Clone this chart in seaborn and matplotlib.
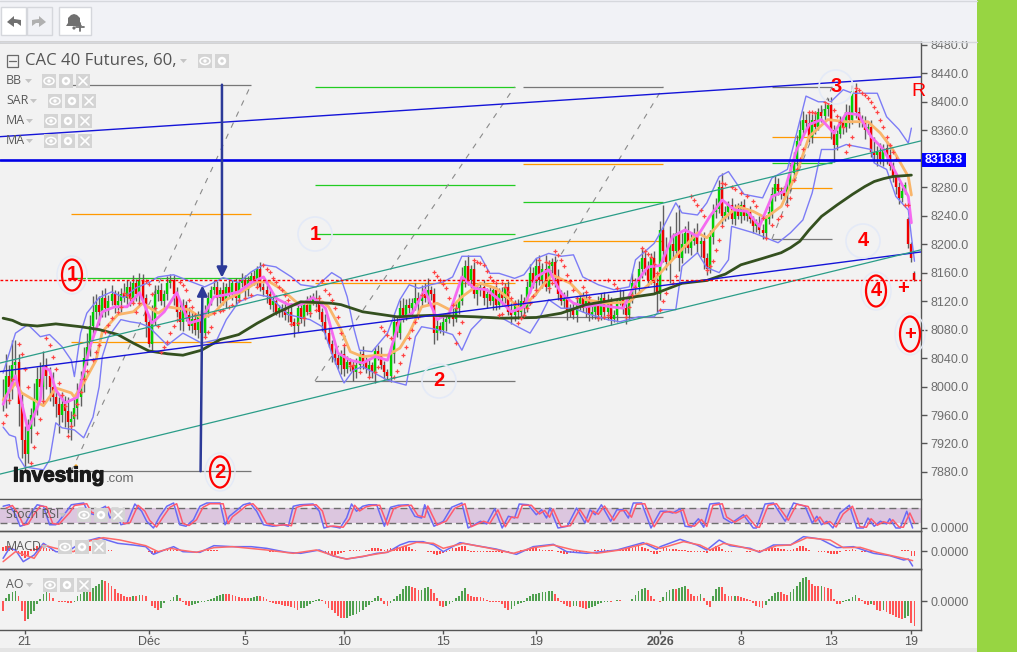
import matplotlib
matplotlib.use("Agg")
import matplotlib.pyplot as plt
from matplotlib.patches import Ellipse, Circle, Rectangle, Polygon
import matplotlib.patheffects as pe
import seaborn as sns

# Candles, one per bar
closes = [
    7985, 8015, 8000, 8030, 8035, 7975, 7925, 7905, 7940, 7960,
    7980, 8010, 8000, 8030, 8015, 8000, 7985, 7975, 7960, 7975,
    7965, 7950, 7955, 7970, 7985, 8010, 8040, 8055, 8085, 8105,
    8115, 8105, 8125, 8110, 8120, 8130, 8115, 8120, 8130, 8125,
    8140, 8125, 8145, 8130, 8150, 8125, 8090, 8060, 8095, 8130,
    8135, 8120, 8130, 8145, 8150, 8130, 8105, 8090, 8115, 8100,
    8085, 8095, 8080, 8100, 8075, 8105, 8125, 8135, 8140, 8125,
    8135, 8120, 8140, 8130, 8145, 8125, 8145, 8150, 8135, 8150,
    8155, 8150, 8165, 8140, 8135, 8130, 8115, 8120, 8105, 8110,
    8110, 8100, 8105, 8090, 8085, 8110, 8095, 8115, 8105, 8120,
    8125, 8120, 8105, 8090, 8075, 8060, 8045, 8040, 8030, 8045,
    8025, 8035, 8030, 8020, 8030, 8045, 8035, 8025, 8030, 8020,
    8050, 8045, 8030, 8020, 8015, 8045, 8090, 8075, 8110, 8100,
    8115, 8110, 8118, 8125, 8120, 8130, 8125, 8135, 8130, 8075,
    8085, 8080, 8090, 8095, 8100, 8095, 8110, 8120, 8150, 8170,
    8150, 8165, 8130, 8135, 8140, 8125, 8130, 8120, 8135, 8115,
    8130, 8125, 8140, 8105, 8100, 8115, 8105, 8120, 8110, 8140,
    8160, 8145, 8170, 8150, 8165, 8140, 8170, 8175, 8155, 8130,
    8120, 8125, 8105, 8110, 8100, 8115, 8125, 8110, 8120, 8100,
    8105, 8115, 8100, 8125, 8105, 8120, 8095, 8100, 8120, 8125,
    8110, 8100, 8125, 8145, 8140, 8165, 8180, 8165, 8150, 8180,
    8145, 8130, 8220, 8190, 8175, 8200, 8190, 8215, 8180, 8200,
    8215, 8195, 8205, 8215, 8200, 8205, 8180, 8165, 8210, 8245,
    8250, 8280, 8240, 8245, 8255, 8235, 8250, 8240, 8255, 8240,
    8245, 8235, 8225, 8230, 8220, 8215, 8235, 8245, 8270, 8285,
    8275, 8272, 8268, 8280, 8300, 8320, 8345, 8360, 8375, 8370,
    8350, 8375, 8365, 8385, 8380, 8390, 8395, 8360, 8340, 8355,
    8370, 8365, 8385, 8375, 8415, 8385, 8375, 8370, 8360, 8365,
    8330, 8325, 8330, 8320, 8335, 8325, 8310, 8295, 8280, 8265,
    8275, 8283, 8200, 8180, 8150,
]
gap_opens = {292: 8235, 294: 8160}
wick_up = [
    25, 30, 15, 35, 30, 10, 15, 20, 15, 10,
    25, 18, 25, 20, 10, 12, 20, 15, 10, 18,
    12, 20, 10, 15, 20, 12, 15, 20, 15, 22,
    15, 12, 10, 14, 8, 12, 6, 14, 8, 15,
    10, 8, 12, 6, 10, 8, 5, 10, 20, 12,
    8, 10, 5, 10, 8, 6, 10, 12, 8, 5,
    12, 10, 8, 6, 8, 10, 8, 6, 10, 8,
    5, 12, 6, 10, 5, 8, 6, 10, 6, 5,
    6, 8, 5, 10, 6, 8, 5, 6, 8, 5,
    6, 10, 8, 12, 6, 8, 10, 5, 12, 8,
    6, 10, 8, 5, 12, 8, 6, 10, 5, 6,
    12, 8, 5, 6, 10, 5, 12, 6, 8, 5,
    6, 8, 10, 6, 5, 12, 10, 8, 12, 15,
    8, 10, 6, 20, 8, 12, 15, 18, 6, 8,
    10, 6, 12, 8, 6, 10, 8, 10, 18, 8,
    15, 6, 10, 8, 5, 10, 8, 12, 6, 8,
    8, 10, 5, 8, 12, 6, 8, 10, 6, 8,
    12, 8, 10, 15, 8, 20, 8, 5, 8, 10,
    6, 8, 10, 6, 8, 12, 5, 8, 10, 6,
    8, 5, 12, 6, 8, 10, 6, 8, 5, 12,
    10, 8, 6, 15, 8, 12, 15, 10, 12, 8,
    10, 8, 12, 35, 20, 25, 15, 30, 40, 15,
    10, 18, 12, 8, 15, 5, 12, 8, 10, 12,
    15, 10, 20, 8, 6, 10, 6, 8, 5, 8,
    6, 8, 5, 6, 10, 8, 6, 8, 10, 12,
    8, 6, 10, 8, 12, 10, 8, 15, 12, 8,
    15, 8, 12, 6, 10, 8, 10, 12, 8, 6,
    10, 8, 12, 10, 8, 12, 8, 6, 10, 5,
    10, 20, 8, 12, 6, 10, 8, 6, 5, 8,
    6, 5, 3, 3, 2,
]
wick_dn = [
    20, 15, 25, 18, 15, 30, 25, 23, 12, 20,
    15, 20, 10, 25, 18, 20, 12, 18, 25, 10,
    22, 15, 25, 10, 15, 12, 18, 10, 12, 15,
    10, 18, 8, 12, 10, 6, 12, 8, 15, 6,
    10, 12, 8, 10, 15, 8, 20, 5, 10, 8,
    10, 6, 12, 8, 6, 15, 8, 10, 12, 8,
    6, 10, 8, 12, 15, 6, 8, 10, 5, 12,
    8, 6, 10, 5, 8, 10, 6, 5, 10, 8,
    6, 8, 10, 6, 8, 12, 6, 10, 5, 8,
    12, 6, 10, 5, 15, 8, 6, 10, 5, 8,
    6, 8, 10, 12, 8, 5, 10, 8, 6, 12,
    10, 6, 8, 12, 8, 5, 10, 6, 12, 8,
    15, 8, 6, 10, 5, 8, 12, 6, 8, 10,
    6, 8, 12, 10, 15, 8, 6, 10, 8, 15,
    10, 5, 8, 12, 6, 10, 5, 8, 6, 10,
    8, 12, 6, 15, 8, 10, 15, 6, 12, 8,
    6, 10, 8, 5, 12, 8, 10, 6, 8, 5,
    8, 6, 10, 8, 12, 6, 8, 10, 15, 8,
    6, 10, 12, 8, 5, 10, 8, 6, 12, 8,
    5, 10, 8, 6, 10, 12, 8, 5, 10, 6,
    8, 12, 6, 8, 10, 6, 12, 8, 10, 6,
    15, 25, 8, 15, 12, 30, 10, 8, 18, 6,
    12, 8, 10, 6, 12, 18, 15, 8, 6, 10,
    8, 6, 12, 8, 10, 6, 8, 5, 10, 6,
    8, 5, 10, 8, 6, 8, 5, 6, 8, 10,
    6, 8, 5, 10, 6, 8, 10, 5, 8, 10,
    6, 8, 10, 5, 8, 6, 10, 12, 25, 8,
    6, 10, 8, 12, 6, 8, 10, 6, 12, 5,
    8, 10, 15, 8, 10, 12, 6, 8, 10, 8,
    6, 5, 5, 5, 2,
]

# Bollinger bands
upper_bars = [0, 4, 8, 12, 15, 19, 22, 23, 25, 27, 31, 35, 39, 43, 47, 50, 55, 59, 65, 68, 71, 76, 80, 84, 88, 93, 96, 101, 106, 109, 111, 113, 115, 119, 124, 128, 131, 134, 138, 142, 145, 148, 154, 157, 160, 165, 168, 172, 176, 180, 184, 187, 192, 197, 202, 204, 210, 212, 217, 219, 224, 227, 231, 234, 239, 245, 248, 253, 256, 259, 263, 267, 271, 274, 280, 282, 285, 289, 292, 293]
upper_vals = [8019, 8075, 8087, 8070, 8073, 8056, 8037, 8014, 8075, 8103, 8125, 8133, 8125, 8139, 8146, 8154, 8157, 8150, 8140, 8146, 8153, 8146, 8161, 8171, 8168, 8154, 8143, 8140, 8160, 8152, 8126, 8084, 8051, 8049, 8075, 8122, 8143, 8138, 8143, 8147, 8154, 8183, 8183, 8159, 8159, 8152, 8157, 8180, 8187, 8183, 8185, 8154, 8143, 8136, 8140, 8178, 8201, 8216, 8258, 8244, 8241, 8258, 8295, 8302, 8270, 8265, 8293, 8305, 8356, 8408, 8400, 8400, 8417, 8412, 8412, 8412, 8379, 8361, 8342, 8363]
lower_bars = [0, 2, 4, 5, 7, 13, 15, 17, 19, 23, 26, 29, 31, 32, 34, 38, 41, 44, 47, 53, 58, 64, 69, 72, 76, 82, 86, 92, 99, 103, 106, 109, 110, 113, 116, 124, 130, 133, 135, 140, 145, 148, 151, 155, 161, 166, 170, 173, 176, 180, 184, 188, 195, 199, 205, 210, 212, 217, 219, 224, 227, 231, 234, 235, 242, 246, 250, 254, 258, 261, 264, 268, 272, 280, 281, 285, 288, 292, 293, 294]
lower_vals = [7943, 7932, 7929, 7901, 7887, 7883, 7897, 7949, 7942, 7939, 7928, 7957, 8000, 8042, 8070, 8094, 8091, 8089, 8084, 8058, 8075, 8061, 8066, 8094, 8119, 8129, 8126, 8101, 8094, 8084, 8047, 8014, 8005, 8023, 8028, 8009, 8002, 8070, 8084, 8080, 8073, 8051, 8080, 8098, 8096, 8084, 8075, 8096, 8122, 8110, 8110, 8103, 8094, 8091, 8098, 8098, 8108, 8108, 8169, 8188, 8167, 8160, 8178, 8225, 8216, 8209, 8202, 8216, 8234, 8272, 8333, 8333, 8340, 8333, 8314, 8305, 8267, 8248, 8211, 8176]

# Moving averages
fast_bars = [0, 4, 8, 12, 13, 15, 17, 20, 24, 28, 32, 36, 40, 44, 48, 52, 56, 60, 64, 68, 72, 76, 80, 84, 88, 92, 96, 100, 104, 108, 112, 116, 120, 124, 128, 132, 136, 140, 144, 148, 152, 156, 160, 164, 168, 172, 176, 180, 184, 188, 192, 196, 200, 204, 208, 212, 216, 220, 224, 228, 232, 236, 240, 244, 248, 252, 256, 260, 264, 268, 272, 276, 280, 284, 288, 292, 293]
fast_vals = [7975, 8015, 7939, 7981, 8027, 8023, 7995, 7977, 7985, 8056, 8105, 8112, 8112, 8132, 8089, 8105, 8132, 8089, 8094, 8126, 8129, 8133, 8146, 8154, 8124, 8115, 8115, 8125, 8110, 8047, 8037, 8033, 8042, 8037, 8094, 8103, 8136, 8094, 8103, 8154, 8138, 8136, 8122, 8105, 8112, 8154, 8164, 8131, 8117, 8112, 8115, 8112, 8110, 8145, 8168, 8170, 8211, 8220, 8211, 8239, 8262, 8248, 8246, 8225, 8267, 8274, 8333, 8368, 8375, 8356, 8384, 8382, 8351, 8333, 8300, 8267, 8230]
mid_bars = [0, 4, 6, 10, 13, 17, 22, 23, 26, 30, 32, 37, 42, 45, 50, 53, 56, 60, 64, 68, 72, 77, 82, 86, 90, 95, 99, 103, 105, 109, 112, 116, 121, 124, 128, 131, 135, 140, 144, 148, 154, 159, 163, 167, 172, 177, 183, 188, 195, 202, 210, 214, 218, 224, 227, 232, 237, 242, 246, 251, 256, 260, 266, 272, 279, 283, 287, 292, 293]
mid_vals = [7981, 8005, 7991, 7981, 7973, 7998, 7991, 7985, 8005, 8037, 8077, 8101, 8105, 8117, 8103, 8112, 8110, 8108, 8096, 8103, 8122, 8133, 8147, 8147, 8136, 8117, 8117, 8119, 8112, 8080, 8049, 8042, 8044, 8044, 8054, 8075, 8112, 8117, 8108, 8126, 8145, 8138, 8124, 8108, 8131, 8157, 8145, 8122, 8117, 8119, 8150, 8169, 8188, 8216, 8209, 8234, 8253, 8246, 8237, 8253, 8300, 8351, 8375, 8372, 8372, 8356, 8333, 8295, 8269]
slow_bars = [0, 3, 6, 11, 17, 25, 31, 37, 42, 47, 53, 58, 64, 70, 76, 82, 88, 96, 106, 109, 116, 127, 138, 152, 161, 172, 180, 188, 199, 210, 219, 227, 233, 238, 245, 251, 254, 257, 260, 264, 269, 274, 278, 281, 284, 287, 290, 293]
slow_vals = [8096, 8093, 8087, 8085, 8088, 8084, 8080, 8073, 8061, 8050, 8046, 8044, 8051, 8066, 8073, 8089, 8103, 8119, 8117, 8115, 8105, 8098, 8100, 8098, 8096, 8097, 8103, 8115, 8123, 8130, 8145, 8149, 8158, 8171, 8180, 8188, 8195, 8204, 8220, 8239, 8255, 8270, 8281, 8288, 8292, 8295, 8296, 8297]

# Parabolic SAR dots
sar_bars = [0, 1, 2, 3, 5, 6, 7, 8, 9, 10, 11, 12, 13, 14, 15, 16, 17, 18, 19, 20, 21, 22, 23, 24, 25, 26, 27, 29, 30, 31, 33, 34, 35, 37, 38, 39, 40, 41, 42, 43, 44, 46, 47, 48, 49, 50, 51, 52, 53, 54, 55, 56, 57, 58, 59, 60, 61, 62, 65, 66, 67, 68, 70, 71, 73, 74, 76, 78, 80, 82, 84, 85, 86, 87, 88, 89, 90, 91, 92, 93, 95, 97, 99, 101, 102, 103, 104, 105, 106, 107, 108, 109, 110, 112, 113, 115, 118, 120, 121, 122, 123, 124, 125, 126, 127, 128, 129, 130, 131, 132, 133, 134, 135, 139, 140, 141, 142, 143, 144, 145, 146, 146, 147, 148, 152, 153, 154, 155, 156, 157, 158, 159, 160, 161, 161, 162, 163, 164, 165, 166, 167, 168, 169, 170, 171, 172, 173, 175, 176, 176, 177, 178, 179, 180, 181, 182, 183, 184, 185, 187, 188, 189, 192, 194, 195, 195, 197, 198, 201, 202, 203, 204, 206, 207, 208, 209, 210, 211, 212, 213, 214, 216, 217, 222, 223, 224, 225, 226, 227, 228, 229, 230, 231, 232, 232, 233, 235, 236, 238, 240, 242, 243, 245, 246, 248, 250, 251, 253, 254, 255, 256, 257, 258, 260, 261, 262, 265, 266, 268, 269, 270, 271, 272, 273, 274, 275, 276, 277, 278, 279, 280, 281, 282, 283, 284, 285, 286, 287, 288, 291, 292]
sar_vals = [7949, 7960, 7981, 8010, 8060, 8045, 8025, 8000, 7893, 7915, 7935, 7955, 7980, 8068, 8058, 8042, 8025, 8005, 7988, 7972, 7930, 7945, 7960, 7975, 7992, 8010, 8022, 8037, 8048, 8058, 8077, 8086, 8096, 8105, 8112, 8132, 8128, 8124, 8118, 8105, 8118, 8148, 8144, 8130, 8110, 8085, 8049, 8056, 8063, 8075, 8085, 8094, 8147, 8142, 8135, 8122, 8112, 8101, 8070, 8077, 8084, 8103, 8106, 8108, 8112, 8115, 8122, 8125, 8129, 8140, 8171, 8165, 8161, 8153, 8147, 8140, 8136, 8128, 8122, 8088, 8089, 8096, 8103, 8108, 8125, 8148, 8136, 8130, 8122, 8110, 8098, 8075, 8058, 8029, 8030, 8020, 8014, 8020, 8028, 8084, 8078, 8073, 8068, 8014, 8022, 8033, 8044, 8056, 8068, 8080, 8090, 8098, 8129, 8161, 8155, 8150, 8144, 8138, 8124, 8115, 8110, 8061, 8075, 8090, 8178, 8175, 8173, 8171, 8162, 8154, 8148, 8145, 8100, 8102, 8145, 8140, 8133, 8125, 8117, 8089, 8096, 8100, 8110, 8117, 8127, 8136, 8178, 8175, 8173, 8138, 8145, 8190, 8185, 8178, 8170, 8157, 8148, 8136, 8125, 8140, 8133, 8126, 8096, 8098, 8100, 8150, 8144, 8138, 8098, 8112, 8129, 8140, 8194, 8190, 8186, 8182, 8172, 8159, 8108, 8120, 8132, 8145, 8155, 8267, 8262, 8255, 8248, 8239, 8164, 8170, 8176, 8192, 8206, 8225, 8286, 8284, 8280, 8277, 8272, 8267, 8260, 8253, 8237, 8209, 8227, 8235, 8239, 8255, 8265, 8290, 8305, 8320, 8333, 8386, 8385, 8384, 8400, 8398, 8388, 8380, 8372, 8365, 8330, 8340, 8351, 8419, 8416, 8412, 8410, 8405, 8400, 8393, 8385, 8375, 8365, 8350, 8340, 8330, 8320, 8255, 8255]

# Trend channels: bar ends and prices
channel_bars = [-1, 296]
blue_top = [8351, 8435]
blue_bottom = [8021, 8189]
teal_top = [8033, 8345]
teal_bottom = [7877, 8192]
level_price = 8318.8
last_price = 8150

# Fibonacci tools: bar span, levels, colours
fib_spans = [(22, 80), (100.6, 165), (167.7, 213), (248, 267.4)]
fib_levels = [
    [8424, 8243, 8153, 8063, 7881],
    [8421, 8283, 8214, 8146, 8008],
    [8421, 8313, 8259, 8205, 8098],
    [8421, 8351, 8314, 8279, 8207],
]
fib_colors = [
    ["#777777", "#ff9900", "#22cc22", "#ff9900", "#777777"],
    ["#22cc22", "#22cc22", "#22cc22", "#ff9900", "#777777"],
    ["#777777", "#ff9900", "#22cc22", "#ff9900", "#777777"],
    ["#777777", "#ff9900", "#22cc22", "#ff9900", "#777777"],
]

# Stoch RSI
stoch_bars = [0, 2, 4, 5.5, 7, 9, 11, 13, 15, 17, 18, 20.5, 22, 26, 27.5, 29.6, 31, 33, 34.5, 36.6, 38, 40, 42.5, 44.7, 46.3, 48.5, 50.6, 52.8, 55, 57, 59, 61.4, 63.5, 65.7, 70, 71.6, 73, 75, 77.5, 79.6, 81.8, 84, 87, 90.4, 92, 93.6, 95.8, 100, 102, 103.5, 105.5, 107.6, 108.7, 110.8, 112.4, 114, 116, 118, 120.5, 123, 125, 127.5, 130.7, 132.8, 135, 136, 139, 142, 144.7, 148, 150, 154, 156, 158.6, 161, 163, 165, 166.5, 169.4, 172, 173.7, 175.3, 176.4, 179, 182, 185, 187.7, 189.3, 191, 193, 196, 198, 200, 201.7, 203.3, 206, 209, 212, 214, 216, 218.4, 220, 222, 224.3, 226, 228, 231, 232.4, 235, 238.8, 242, 243, 245.8, 248.5, 252.3, 255, 258.7, 261, 262.5, 264, 265.7, 267.7, 270, 273, 275.4, 277.5, 279, 281, 283, 285, 286, 288, 289.4, 291.5, 293.4]
stoch_k = [87, 93, 53, 7, 13, 60, 93, 87, 13, 13, 27, 67, 93, 100, 60, 53, 73, 87, 40, 67, 13, 20, 96, 67, 27, 0, 47, 87, 100, 13, 7, 33, 87, 100, 100, 13, 47, 67, 93, 100, 67, 13, 7, 13, 7, 87, 93, 96, 67, 0, 7, 3, 0, 40, 96, 67, 87, 93, 93, 7, 83, 91, 93, 47, 40, 93, 7, 27, 83, 100, 0, 27, 16, 77, 0, 47, 40, 96, 93, 53, 73, 40, 80, 0, 7, 80, 20, 73, 53, 93, 27, 73, 73, 40, 100, 100, 0, 67, 67, 60, 77, 7, 4, 37, 3, 96, 100, 40, 20, 53, 0, 0, 96, 100, 27, 100, 87, 20, 47, 13, 27, 0, 60, 91, 0, 0, 40, 7, 27, 16, 37, 0, 0, 67, 0]
stoch_d_bars = [1, 3, 5, 6.5, 8, 10, 12, 14, 16, 18, 19, 21.5, 23, 27, 28.5, 30.6, 32, 34, 35.5, 37.6, 39, 41, 43.5, 45.7, 47.3, 49.5, 51.6, 53.8, 56, 58, 60, 62.4, 64.5, 66.7, 71, 72.6, 74, 76, 78.5, 80.6, 82.8, 85, 88, 91.4, 93, 94.6, 96.8, 101, 103, 104.5, 106.5, 108.6, 109.7, 111.8, 113.4, 115, 117, 119, 121.5, 124, 126, 128.5, 131.7, 133.8, 136, 137, 140, 143, 145.7, 149, 151, 155, 157, 159.6, 162, 164, 166, 167.5, 170.4, 173, 174.7, 176.3, 177.4, 180, 183, 186, 188.7, 190.3, 192, 194, 197, 199, 201, 202.7, 204.3, 207, 210, 213, 215, 217, 219.4, 221, 223, 225.3, 227, 229, 232, 233.4, 236, 239.8, 243, 244, 246.8, 249.5, 253.3, 256, 259.7, 262, 263.5, 265, 266.7, 268.7, 271, 274, 276.4, 278.5, 280, 282, 284, 286, 287, 289, 290.4, 292.5, 294]
stoch_d = [80, 90, 56, 12, 15, 55, 88, 85, 18, 15, 28, 62, 90, 97, 63, 55, 70, 84, 44, 64, 17, 22, 91, 68, 30, 4, 44, 83, 97, 18, 10, 33, 83, 97, 97, 18, 45, 64, 90, 97, 68, 18, 10, 13, 9, 82, 90, 93, 68, 5, 8, 5, 3, 37, 91, 68, 84, 90, 91, 12, 78, 88, 91, 50, 43, 88, 12, 28, 79, 97, 5, 27, 18, 72, 5, 44, 41, 91, 91, 56, 70, 43, 76, 5, 9, 75, 24, 68, 55, 88, 31, 68, 71, 43, 95, 97, 5, 62, 66, 60, 73, 12, 7, 34, 6, 91, 97, 44, 23, 51, 4, 3, 91, 97, 31, 95, 86, 25, 44, 17, 26, 4, 56, 87, 5, 3, 37, 11, 25, 18, 33, 4, 3, 60, 20]

# MACD lines and histogram
macd_bars = [0, 2, 4, 6.5, 10, 13, 17, 20.5, 24, 27, 31, 37, 42, 46, 48.5, 52, 55, 58, 63.5, 68, 74, 80, 85, 91.5, 96, 102, 106.5, 110.8, 116, 120.5, 124, 128, 131, 135.5, 139, 142, 147.4, 152.7, 159, 165.6, 171, 177.5, 181.8, 188.2, 198, 206.5, 210.8, 212, 218.4, 223.8, 227, 231, 234.5, 241, 244, 248.5, 254, 258.2, 263.6, 269, 274.3, 280.8, 286, 290.5, 292, 293.4]
macd_line = [-22, 8, 3, -32, -12, 23, -2, -4, 18, 30, 40, 23, 18, 13, -10, 3, 13, -2, -4, 16, 13, 13, 8, -4, -7, 3, -15, -24, -17, -7, -4, 18, 28, 28, 18, -2, 25, 16, 6, -10, 13, 20, -2, -7, 3, 25, 5, 13, 35, 18, 3, 33, 16, 8, -4, 18, 18, 43, 36, 10, 13, -7, -14, -27, -24, -45]
signal_bars = [0, 4, 10, 13, 17, 22.7, 27, 32.3, 37.7, 46, 50, 54, 57, 62.4, 68, 74, 85, 93.6, 101, 108.7, 110.8, 117.3, 123.7, 129, 133.4, 138.8, 142, 148.4, 156, 164.6, 171, 177.5, 184, 191.5, 199, 207.6, 212, 214, 219.5, 224.8, 228, 232.4, 237.8, 244, 249.6, 254, 259.3, 266.8, 271, 276.5, 281.8, 290.5, 293.4]
signal_line = [-32, -2, -22, 18, 8, -2, 28, 40, 33, 16, -2, 8, 3, -4, 10, 13, 3, -7, 3, -20, -24, -14, -4, 13, 26, 23, 8, 23, 10, -7, 10, 18, 3, -7, 3, 23, 8, 13, 28, 18, 3, 23, 13, -2, 16, 18, 40, 33, 10, 11, -4, -22, -29]
macd_hist = [
    12, 15, 14, 12, 8, -5, -15, -22, -15, 5,
    8, 14, 16, 12, 8, 5, 2, -3, -4, -5,
    -6, -5, -4, -3, 4, 8, 10, 12, 14, 10,
    8, 6, 4, 2, 2, 2, 1, 1, 1, 1,
    1, 1, 0, 1, 1, 0, -1, -3, -8, -10,
    -6, -3, 2, 3, 5, 2, 3, 1, -1, -3,
    -2, -1, 0, 1, 1, 2, 3, 3, 2, 2,
    1, 1, 0, 0, -1, -1, -1, 0, 0, 0,
    1, 1, 1, 0, -1, -1, -2, -2, -2, -2,
    -1, -1, -1, -1, -1, 0, 0, 1, 1, 1,
    1, 1, 0, -2, -6, -10, -11, -12, -10, -7,
    -4, -1, 2, 2, 2, 2, 1, 2, 4, 8,
    10, 9, 6, 3, 5, 8, 10, 11, 11, 13,
    14, 12, 6, 2, 1, 1, -1, -2, -4, -8,
    -12, -10, -6, -2, 4, 8, 10, 12, 15, 14,
    4, -2, -2, -2, -3, -3, -3, -2, -2, -3,
    -4, -5, -4, -2, -1, 0, 1, 2, 4, 6,
    7, 8, 8, 6, 4, 3, 2, 2, 1, -2,
    -6, -8, -8, -6, -4, -3, -3, -3, -2, -1,
    1, 2, 3, 5, 5, 3, 2, 2, 2, 3,
    4, 6, 8, 10, 12, 14, 13, 9, 6, -2,
    -8, -8, -2, 8, 8, 7, 7, 6, 4, 3,
    2, -2, -3, -3, -3, -2, -4, -5, 2, 8,
    14, 12, 6, -2, -2, -2, -1, -1, -1, -1,
    -2, -2, -1, 0, 2, 4, 6, 8, 10, 10,
    9, 7, 5, 3, 3, 5, 8, 14, 14, 10,
    3, -1, -1, -2, -2, -4, -6, -8, -10, -8,
    -3, -1, 2, 4, 5, 4, 1, -3, -3, -2,
    -2, -2, 0, 0, 0, 1, 1, 1, 1, 1,
    2, 2, 3, -14, -14,
]

# Awesome oscillator
ao_vals = [
    -30, 10, 22, 28, 30, 15, -30, -60, -55, -40,
    -30, -10, 5, 20, 35, 25, 10, 0, -2, -3,
    -4, -5, -6, -3, 15, 20, 30, 35, 35, 40,
    45, 50, 62, 60, 55, 45, 35, 25, 22, 15,
    12, 12, 15, 15, 18, 18, 15, 0, -15, -20,
    -28, -20, -5, 0, 2, 12, 18, 8, -2, -12,
    -14, -12, -8, -6, -4, -2, 2, 5, 10, 15,
    18, 20, 20, 20, 18, 14, 12, 10, 8, 8,
    10, 12, 14, 14, 12, 6, -2, -5, -8, -10,
    -12, -14, -15, -18, -22, -26, -22, -20, -15, -10,
    -3, 3, 5, 2, -10, -22, -28, -36, -44, -50,
    -52, -50, -46, -42, -38, -32, -26, -18, -12, -2,
    8, 15, 8, -8, -15, -6, 6, 14, 20, 35,
    44, 46, 42, 38, 33, 34, 38, 43, 36, 24,
    8, -16, -18, -16, -8, -2, 8, 15, 30, 40,
    22, 14, 12, 12, 11, 10, 2, -2, -3, -4,
    -4, -8, -20, -28, -24, -16, -10, -6, -2, 8,
    16, 20, 22, 25, 27, 28, 29, 30, 22, 10,
    -4, -10, -16, -18, -16, -15, -18, -22, -25, -22,
    -18, -14, -8, -5, -4, -3, -3, 0, 2, 2,
    1, 0, 0, 5, 18, 30, 35, 40, 32, 15,
    5, -1, -2, 12, 28, 32, 35, 35, 38, 42,
    45, 35, 22, 16, 16, 20, 8, -12, -18, 15,
    35, 42, 42, 22, 15, 14, 15, 14, 13, 10,
    7, 4, -5, -16, -19, -20, -12, 5, 16, 24,
    28, 26, 20, 18, 28, 35, 45, 58, 68, 72,
    62, 52, 46, 44, 46, 42, 38, 35, 5, -8,
    -10, -2, 3, 6, 12, 18, 8, 2, -8, -12,
    -10, -12, -28, -30, -28, -32, -38, -42, -48, -52,
    -55, -50, -45, -65, -75,
]

# Axis ticks
price_ticks = [8480, 8440, 8400, 8360, 8280, 8240, 8200, 8160, 8120, 8080, 8040, 8000, 7960, 7920, 7880]
tick_bars = [7, 47, 78, 110, 142, 172, 212, 238, 267, 293]
tick_labels = ["21", "Déc", "5", "10", "15", "19", "2026", "8", "13", "19"]

W, H = 1017, 652
BG = "#f2f2f2"
GRAY = "#6e6e6e"
DARK = "#555555"
BLUE_L = "#7c7cf6"
UP, DOWN = "#00d000", "#f00000"

sns.set_theme(style="white")
plt.rcParams["font.family"] = ["Liberation Sans", "DejaVu Sans"]

fig = plt.figure(figsize=(W / 100, H / 100), dpi=100, facecolor=BG)


def panel(top, bottom):
    ax = fig.add_axes([0, 1 - bottom / H, 921 / W, (bottom - top) / H], facecolor="none")
    ax.set_xlim(-1, 296.1)
    ax.spines["left"].set_visible(False)
    for side in ["top", "bottom", "right"]:
        ax.spines[side].set_color(DARK)
        ax.spines[side].set_linewidth(1.0)
    ax.yaxis.tick_right()
    ax.set_xticks([])
    ax.tick_params(axis="y", length=4, width=1, color=DARK, pad=3, labelsize=9, labelcolor=GRAY)
    return ax


def line(ax, x, y, color, lw, **kw):
    sns.lineplot(x=x, y=y, ax=ax, color=color, linewidth=lw, estimator=None, sort=False, legend=False, **kw)
    ax.set_xlabel("")
    ax.set_ylabel("")


ax = panel(42, 499)
ax.set_ylim(7842, 8484)
ax.spines["bottom"].set_visible(False)
ax.set_yticks(price_ticks)
ax.set_yticklabels([f"{p:.1f}" for p in price_ticks])

# fib tools under everything
for (b0, b1), levels, colors in zip(fib_spans, fib_levels, fib_colors):
    for lev, col in zip(levels, colors):
        ax.hlines(lev, b0, b1, color=col, lw=0.9, zorder=1)
    line(ax, [b0, b1], [levels[-1], levels[0]], "#8a8a8a", 0.8, linestyle=(0, (5, 6)), zorder=1)

# candles
opens = [gap_opens.get(i, closes[i - 1] if i else closes[0]) for i in range(len(closes))]
bars = list(range(len(closes)))
highs = [max(o, c) + u for o, c, u in zip(opens, closes, wick_up)]
lows = [min(o, c) - d for o, c, d in zip(opens, closes, wick_dn)]
body_cols = [UP if c >= o else DOWN for o, c in zip(opens, closes)]
ax.vlines(bars, lows, highs, color="#5f5f5f", lw=1.0, zorder=2)
ax.vlines(bars, opens, closes, color=body_cols, lw=1.7, zorder=3)

line(ax, upper_bars, upper_vals, BLUE_L, 1.0, zorder=4)
line(ax, lower_bars, lower_vals, BLUE_L, 1.0, zorder=4)
line(ax, mid_bars, mid_vals, "#f9b56a", 2.0, zorder=4)
line(ax, fast_bars, fast_vals, "#f56af0", 2.0, zorder=4)
line(ax, slow_bars, slow_vals, "#34501f", 2.0, zorder=5)
sns.scatterplot(x=sar_bars, y=sar_vals, ax=ax, marker="+", s=9, color="#ff4444", linewidth=0.9, zorder=5, legend=False)

line(ax, channel_bars, blue_top, "#1414d8", 1.0, zorder=6)
line(ax, channel_bars, blue_bottom, "#1414d8", 1.0, zorder=6)
line(ax, channel_bars, teal_top, "#2a9d88", 0.9, zorder=6)
line(ax, channel_bars, teal_bottom, "#2a9d88", 0.9, zorder=6)
ax.axhline(level_price, color="#0000e6", lw=1.9, zorder=6)
ax.axhline(last_price, color="#ff0000", lw=1.0, linestyle=(0, (2, 1.5)), zorder=6)
ax.set_xlim(-1, 296.1)

# drawn arrows
ax.annotate("", xy=(70.6, 8153), xytext=(70.6, 8424), zorder=7,
            arrowprops=dict(arrowstyle="-|>", color="#2c3a98", lw=1.8, mutation_scale=15, shrinkA=0, shrinkB=0))
ax.annotate("", xy=(64.3, 8142), xytext=(63.7, 7881), zorder=7,
            arrowprops=dict(arrowstyle="-|>", color="#2c3a98", lw=1.8, mutation_scale=15, shrinkA=0, shrinkB=0))

# Stoch RSI panel
ax_st = panel(499, 531)
ax_st.set_ylim(-12, 116)
ax_st.axhspan(20, 80, color="#dcc6df", lw=0, zorder=0)
ax_st.hlines([20, 80], -1, 296.1, color="#6e6e6e", lw=1.0, linestyle=(0, (5, 3)), zorder=1)
line(ax_st, stoch_bars, stoch_k, "#6a6af5", 1.1, zorder=2)
line(ax_st, stoch_d_bars, stoch_d, "#ff5a6e", 1.1, zorder=3)
ax_st.set_yticks([0])
ax_st.set_yticklabels(["0.0000"])

# MACD panel
ax_m = panel(531, 569)
ax_m.set_ylim(-54, 60)
ax_m.bar(bars, macd_hist, width=0.55, color="#ff4a4a", linewidth=0, zorder=1)
line(ax_m, macd_bars, macd_line, "#6a6af5", 1.1, zorder=2)
line(ax_m, signal_bars, signal_line, "#ff6a6a", 1.1, zorder=3)
ax_m.set_yticks([0])
ax_m.set_yticklabels(["0.0000"])

# AO panel, green when rising
ax_ao = panel(569, 630)
ax_ao.set_ylim(-87, 96)
ao_cols = ["#4fa04f" if i and ao_vals[i] > ao_vals[i - 1] else "#ff5555" for i in bars]
ax_ao.bar(bars, ao_vals, width=0.58, color=ao_cols, linewidth=0, zorder=1)
ax_ao.set_yticks([0])
ax_ao.set_yticklabels(["0.0000"])
ax_ao.set_xticks(tick_bars)
ax_ao.set_xticklabels(tick_labels)
ax_ao.tick_params(axis="x", length=3, width=1, color=DARK, pad=1, labelsize=9, labelcolor=DARK, bottom=True)
ax_ao.get_xticklabels()[6].set_fontweight("bold")

# Overlay in screen pixels for the page furniture
ui = fig.add_axes([0, 0, 1, 1], facecolor="none")
ui.set_xlim(0, W)
ui.set_ylim(H, 0)
ui.axis("off")
ui.set_zorder(10)

ui.add_patch(Rectangle((977, 0), 40, H, color="#97d542", lw=0))
ui.add_patch(Rectangle((0, 0), 977, 41, color="#f1f2f6", lw=0))
ui.add_patch(Rectangle((0, 648), 977, 4, color="#e4e4e4", lw=0))
ui.plot([0, 977], [41.5, 41.5], color="#d6d8dd", lw=1)
ui.plot([0, 977], [0.5, 0.5], color="#d6d8dd", lw=1)
for x0, x1, fc in [(1, 26, "white"), (27, 52, "#f1f2f6"), (59, 91, "white")]:
    ui.add_patch(Rectangle((x0, 7), x1 - x0, 28, fc=fc, ec="#d5d7dc", lw=1))


def turn_arrow(x, flip, col):
    s = -1 if flip else 1
    pts = [(x, 22), (x + s * 7, 16), (x + s * 7, 19), (x + s * 14, 20), (x + s * 14, 26), (x + s * 10, 23), (x + s * 7, 23), (x + s * 7, 27)]
    ui.add_patch(Polygon(pts, closed=True, color=col, lw=0))


turn_arrow(7, False, "#707070")
turn_arrow(46, True, "#b0b0b0")
ui.add_patch(Polygon([(66, 26), (68, 23), (68, 18), (71, 15), (74, 14), (77, 15), (80, 18), (80, 23), (82, 26)], closed=True, color="#707070", lw=0))
ui.add_patch(Circle((74, 28), 1.6, color="#707070", lw=0))
ui.plot([76, 84], [27, 27], color="#707070", lw=1.3)
ui.plot([80, 80], [23, 31], color="#707070", lw=1.3)

ui.add_patch(Rectangle((6.5, 55), 11, 11.5, fc="none", ec="#6a6a6a", lw=0.9))
ui.plot([8.5, 15.5], [61, 61], color="#6a6a6a", lw=0.9)
ui.text(25, 61, "CAC 40 Futures, 60,", fontsize=12.1, color="#555555", va="center", family=["Open Sans", "DejaVu Sans"])


def tri(x, y):
    ui.add_patch(Polygon([(x, y - 2), (x + 7, y - 2), (x + 3.5, y + 2)], closed=True, color="#c4c4c4", lw=0))


def icons(x, y, n=3):
    for k in range(n):
        x0 = x + 17 * k
        ui.add_patch(Rectangle((x0, y - 7), 14, 14, color="#d4d4d4", lw=0))
        if k == 2:
            ui.plot([x0 + 3, x0 + 11], [y - 4, y + 4], color="white", lw=1.2)
            ui.plot([x0 + 3, x0 + 11], [y + 4, y - 4], color="white", lw=1.2)
        elif k == 0:
            ui.add_patch(Ellipse((x0 + 7, y), 10, 7, fc="none", ec="white", lw=1.1))
            ui.add_patch(Circle((x0 + 7, y), 1.7, color="white", lw=0))
        else:
            ui.add_patch(Circle((x0 + 7, y), 4.2, color="white", lw=0))
            ui.add_patch(Circle((x0 + 7, y), 1.7, color="#d4d4d4", lw=0))


tri(180, 61)
icons(198, 61, 2)
for label, x_tri, x_ic, y in [("BB", 25, 42, 81), ("SAR", 30, 48, 101), ("MA", 26, 44, 121), ("MA", 26, 44, 141),
                              ("Stoch RSI", 59, 77, 515), ("MACD", 41, 58, 547), ("AO", 26, 43, 585)]:
    ui.text(6, y, label, fontsize=8.9, color="#595959", va="center", family=["Open Sans", "DejaVu Sans"])
    tri(x_tri, y)
    icons(x_ic, y)

# Current-level tag
ui.add_patch(Rectangle((922, 153), 44, 14, color="#0000ff", lw=0))
ui.text(944, 160, "8318.8", fontsize=9, color="white", fontweight="bold", ha="center", va="center")

# Investing logo
logo = ui.text(13, 476, "Investing", fontsize=15, fontweight="bold", color="#1a1a1a", va="center")
logo.set_path_effects([pe.withStroke(linewidth=0.8, foreground="#1a1a1a")])
ui.text(106, 479, ".com", fontsize=9.5, color="#666666", va="center")
ui.add_patch(Circle((76, 466), 1.6, color="#f5a623", lw=0))

# Wave labels
RED = "#ff0000"
HALO = "#e4eaf7"
for x, y, label, r in [(315, 234, "1", 17), (439, 381, "2", 17), (836, 87, "3", 17), (863, 241, "4", 17)]:
    ui.add_patch(Circle((x, y), r, fc="none", ec=HALO, lw=1.2))
    ui.text(x, y, label, color=RED, fontsize=14.5, fontweight="bold", ha="center", va="center")
for x, y, label, w, h in [(72, 275, "1", 20, 31), (220, 472, "2", 20, 31), (876, 291, "4", 20, 31), (910, 334, "+", 20, 35)]:
    ui.add_patch(Ellipse((x, y), w + 10, h + 7, fc="none", ec=HALO, lw=1.0))
    ui.add_patch(Ellipse((x, y), w, h, fc="none", ec=RED, lw=1.6))
    ui.text(x, y, label, color=RED, fontsize=14.5, fontweight="bold", ha="center", va="center")
ui.text(903, 288, "+", color=RED, fontsize=14.5, fontweight="bold", ha="center", va="center")
ui.text(918, 92, "R", color=RED, fontsize=14, ha="center", va="center")

fig.savefig("out.png", dpi=100, facecolor=BG)
